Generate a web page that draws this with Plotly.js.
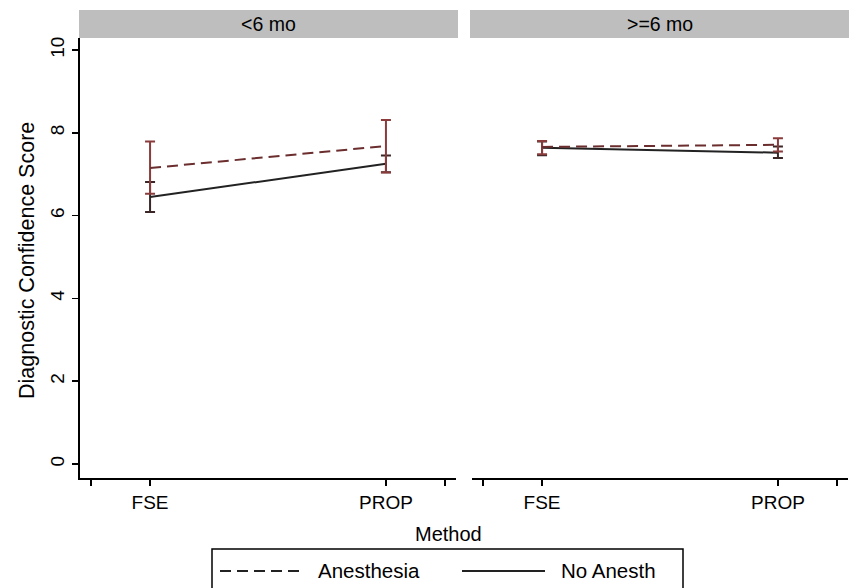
<!DOCTYPE html>
<html>
<head>
<meta charset="utf-8">
<script src="https://cdn.plot.ly/plotly-3.0.1.min.js"></script>
<style>html,body{margin:0;padding:0;background:#fff;}#chart{width:849px;height:588px;}</style>
</head>
<body>
<div id="chart"></div>
<script>
// ---- data ----
var methods = ['FSE', 'PROP'];
var methodPos = [1, 2];
var panels = ['<6 mo', '>=6 mo'];
var seriesNames = ['Anesthesia', 'No Anesth'];

// <6 mo
var anesLt6 = [7.15, 7.68];
var anesLt6Lo = [6.53, 7.04];
var anesLt6Hi = [7.79, 8.31];
var noAnLt6 = [6.45, 7.25];
var noAnLt6Lo = [6.09, 7.05];
var noAnLt6Hi = [6.81, 7.45];
// >=6 mo
var anesGe6 = [7.66, 7.71];
var anesGe6Lo = [7.48, 7.55];
var anesGe6Hi = [7.80, 7.87];
var noAnGe6 = [7.64, 7.52];
var noAnGe6Lo = [7.46, 7.39];
var noAnGe6Hi = [7.79, 7.67];

var yTicks = [0, 2, 4, 6, 8, 10];

// ---- styling ----
var FONT = 'Liberation Sans, Arial, sans-serif';
var anesColor = '#6b2d2d';
var anesBarColor = '#8a3b3b';
var noAnColor = '#222222';
var noAnBarColor = '#3a2626';

function diff(a, b) { return a.map(function (v, i) { return v - b[i]; }); }

function trace(mean, lo, hi, xa, dash, color, barColor, name) {
  return {
    x: methodPos, y: mean, xaxis: xa, yaxis: 'y', mode: 'lines', name: name,
    showlegend: false,
    line: {color: color, width: 2, dash: dash},
    error_y: {type: 'data', symmetric: false, array: diff(hi, mean), arrayminus: diff(mean, lo),
      color: barColor, thickness: 2, width: 5}
  };
}

var data = [
  trace(noAnLt6, noAnLt6Lo, noAnLt6Hi, 'x', 'solid', noAnColor, noAnBarColor, seriesNames[1]),
  trace(anesLt6, anesLt6Lo, anesLt6Hi, 'x', '11px,6px', anesColor, anesBarColor, seriesNames[0]),
  trace(noAnGe6, noAnGe6Lo, noAnGe6Hi, 'x2', 'solid', noAnColor, noAnBarColor, seriesNames[1]),
  trace(anesGe6, anesGe6Lo, anesGe6Hi, 'x2', '11px,6px', anesColor, anesBarColor, seriesNames[0])
];

var L = 80, T = 38, W = 849, H = 588, B = 110, R = 1;
var pw = W - L - R, ph = H - T - B;
function px(x) { return (x - L) / pw; }
function py(y) { return (H - B - y) / ph; }

var xTickVals = [0.75].concat(methodPos).concat([2.25]);
var xTickText = [''].concat(methods).concat(['']);

function xaxis(domain) {
  return {
    domain: domain, range: [0.703, 2.297], anchor: 'y',
    tickmode: 'array', tickvals: xTickVals, ticktext: xTickText,
    ticks: 'outside', ticklen: 6, tickwidth: 1.5, tickcolor: '#000',
    showline: true, linewidth: 2, linecolor: '#000', showgrid: false, zeroline: false,
    tickfont: {family: FONT, size: 19, color: '#000'}
  };
}

var shapes = [
  {type: 'rect', xref: 'paper', yref: 'paper', x0: px(79), x1: px(458), y0: py(38), y1: py(10),
   fillcolor: '#bebebe', line: {width: 0}, layer: 'below'},
  {type: 'rect', xref: 'paper', yref: 'paper', x0: px(470), x1: px(849), y0: py(38), y1: py(10),
   fillcolor: '#bebebe', line: {width: 0}, layer: 'below'},
  // legend box and keys
  {type: 'rect', xref: 'paper', yref: 'paper', x0: px(212), x1: px(683), y0: py(600), y1: py(549),
   fillcolor: 'rgba(0,0,0,0)', line: {width: 1.5, color: '#000'}},
  {type: 'line', xref: 'paper', yref: 'paper', x0: px(220), x1: px(305), y0: py(571), y1: py(571),
   line: {width: 2, color: '#222', dash: '11px,6px'}},
  {type: 'line', xref: 'paper', yref: 'paper', x0: px(462), x1: px(545), y0: py(571), y1: py(571),
   line: {width: 2, color: '#222'}}
];

var annotations = [
  {text: panels[0], xref: 'paper', yref: 'paper', x: px(268.5), y: py(24), showarrow: false,
   font: {family: FONT, size: 19.5, color: '#000'}, xanchor: 'center', yanchor: 'middle'},
  {text: panels[1], xref: 'paper', yref: 'paper', x: px(659.5), y: py(24), showarrow: false,
   font: {family: FONT, size: 19.5, color: '#000'}, xanchor: 'center', yanchor: 'middle'},
  {text: 'Diagnostic Confidence Score', xref: 'paper', yref: 'paper', x: px(27), y: py(261),
   textangle: -90, showarrow: false, font: {family: FONT, size: 21.5, color: '#000'},
   xanchor: 'center', yanchor: 'middle'},
  {text: 'Method', xref: 'paper', yref: 'paper', x: px(448), y: py(534), showarrow: false,
   font: {family: FONT, size: 20, color: '#000'}, xanchor: 'center', yanchor: 'middle'},
  {text: seriesNames[0], xref: 'paper', yref: 'paper', x: px(316), y: py(570), showarrow: false,
   font: {family: FONT, size: 20.5, color: '#000'}, xanchor: 'left', yanchor: 'middle'},
  {text: seriesNames[1], xref: 'paper', yref: 'paper', x: px(559), y: py(570), showarrow: false,
   font: {family: FONT, size: 20.5, color: '#000'}, xanchor: 'left', yanchor: 'middle'}
];

var layout = {
  width: W, height: H,
  margin: {l: L, r: R, t: T, b: B, pad: 0},
  paper_bgcolor: '#fff', plot_bgcolor: '#fff',
  showlegend: false,
  xaxis: xaxis([0, px(456)]),
  xaxis2: xaxis([px(472), 1]),
  yaxis: {
    range: [-0.338, 10.29], tickmode: 'array', tickvals: yTicks, ticktext: yTicks.map(String),
    ticks: 'outside', ticklen: 6, tickwidth: 1.5, tickcolor: '#000', tickangle: -90,
    showline: true, linewidth: 2, linecolor: '#000', showgrid: false, zeroline: false,
    tickfont: {family: FONT, size: 19, color: '#000'}
  },
  shapes: shapes,
  annotations: annotations
};

Plotly.newPlot('chart', data, layout, {displayModeBar: false, staticPlot: true});
</script>
</body>
</html>
